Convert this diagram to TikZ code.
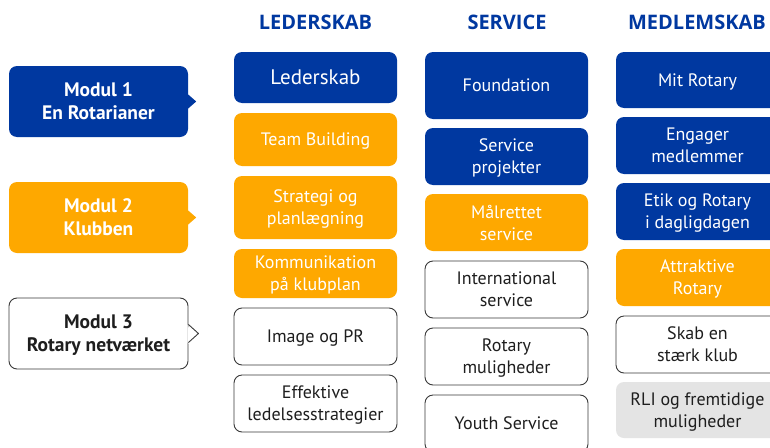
\documentclass[tikz,border=0pt]{standalone}
\usepackage{fontspec}
\setmainfont{PT Sans}
\newfontfamily\headfont{Open Sans}
\definecolor{rblue}{HTML}{0038A0}
\definecolor{rgold}{HTML}{FEA800}
\definecolor{rgray}{HTML}{E4E4E4}
\definecolor{txt}{HTML}{1E1E1E}
\definecolor{bord}{HTML}{3A3A3A}
\tikzset{
  box/.style={rounded corners=8pt, minimum width=163pt, align=center, inner sep=0pt,
    text depth=0pt, font=\fontsize{18}{22}\selectfont},
  bluebox/.style={box, fill=rblue, text=white},
  goldbox/.style={box, fill=rgold, text=white},
  whitebox/.style={box, draw=bord, fill=white, text=txt, line width=0.9pt},
  graybox/.style={box, fill=rgray, text=txt},
  head/.style={font=\headfont\fontsize{20}{22}\selectfont\bfseries, text=rblue},
  modbox/.style={rounded corners=8pt, minimum width=179pt, minimum height=71pt, align=center,
    inner sep=0pt, text depth=0pt, font=\fontsize{19.5}{23}\selectfont\bfseries},
}
\begin{document}
\begin{tikzpicture}[x=1pt,y=-1pt]
\clip (0,0) rectangle (770,447);
\fill[white] (0,0) rectangle (770,447);
% headings
\node[head] (h1) at (315.5,22) {LEDERSKAB};
\node[head] (h2) at (507,22) {SERVICE};
\node[head] (h3) at (697,22) {MEDLEMSKAB};
% modules
\node[modbox, fill=rblue, text=white] (m1) at (98.5,101.5) {Modul 1\\En Rotarianer};
\fill[rblue] ([yshift=7pt]m1.east) -- ++(8,7) -- ([yshift=-7pt]m1.east) -- cycle;
\node[modbox, fill=rgold, text=white] (m2) at (98.5,217.5) {Modul 2\\Klubben};
\fill[rgold] ([yshift=7pt]m2.east) -- ++(8,7) -- ([yshift=-7pt]m2.east) -- cycle;
\node[modbox, draw=bord, line width=0.9pt, fill=white, text=txt] (m3) at (98.5,333.5) {Modul 3\\Rotary netværket};
\fill[white] ([shift={(-1,9)}]m3.east) -- ++(11,9) -- ([shift={(-1,-9)}]m3.east) -- cycle;
\draw[bord, line width=0.9pt, line join=round] ([yshift=9pt]m3.east) -- ++(10,9) -- ([yshift=-9pt]m3.east);
% column 1
\node[bluebox, minimum height=51pt, font=\fontsize{21}{24}\selectfont] (l1) at (315.5,77.5) {Lederskab};
\node[goldbox, minimum height=53pt] (l2) at (315.5,139.5) {Team Building};
\node[goldbox, minimum height=63pt] (l3) at (315.5,207.5) {Strategi og\\planlægning};
\node[goldbox, minimum height=49pt] (l4) at (315.5,273.5) {Kommunikation\\på klubplan};
\node[whitebox, minimum height=57pt] (l5) at (315.5,336.5) {Image og PR};
\node[whitebox, minimum height=57pt] (l6) at (315.5,403.5) {Effektive\\ledelsesstrategier};
% column 2
\node[bluebox, minimum height=67pt] (s1) at (506.5,85.5) {Foundation};
\node[bluebox, minimum height=57pt] (s2) at (506.5,156.5) {Service\\projekter};
\node[goldbox, minimum height=57pt] (s3) at (506.5,222.5) {Målrettet\\service};
\node[whitebox, minimum height=57pt] (s4) at (506.5,289.5) {International\\service};
\node[whitebox, minimum height=57pt] (s5) at (506.5,356.5) {Rotary\\muligheder};
\node[whitebox, minimum height=57pt] (s6) at (506.5,423.5) {Youth Service};
% column 3
\node[bluebox, minimum height=56pt] (c1) at (697.5,80) {Mit Rotary};
\node[bluebox, minimum height=57pt] (c2) at (697.5,145.5) {Engager\\medlemmer};
\node[bluebox, minimum height=57pt] (c3) at (697.5,211.5) {Etik og Rotary\\i dagligdagen};
\node[goldbox, minimum height=57pt] (c4) at (697.5,277.5) {Attraktive\\Rotary};
\node[whitebox, minimum height=57pt] (c5) at (697.5,344.5) {Skab en\\stærk klub};
\node[graybox, minimum height=56pt] (c6) at (697.5,410) {RLI og fremtidige\\muligheder};
\end{tikzpicture}
\end{document}
